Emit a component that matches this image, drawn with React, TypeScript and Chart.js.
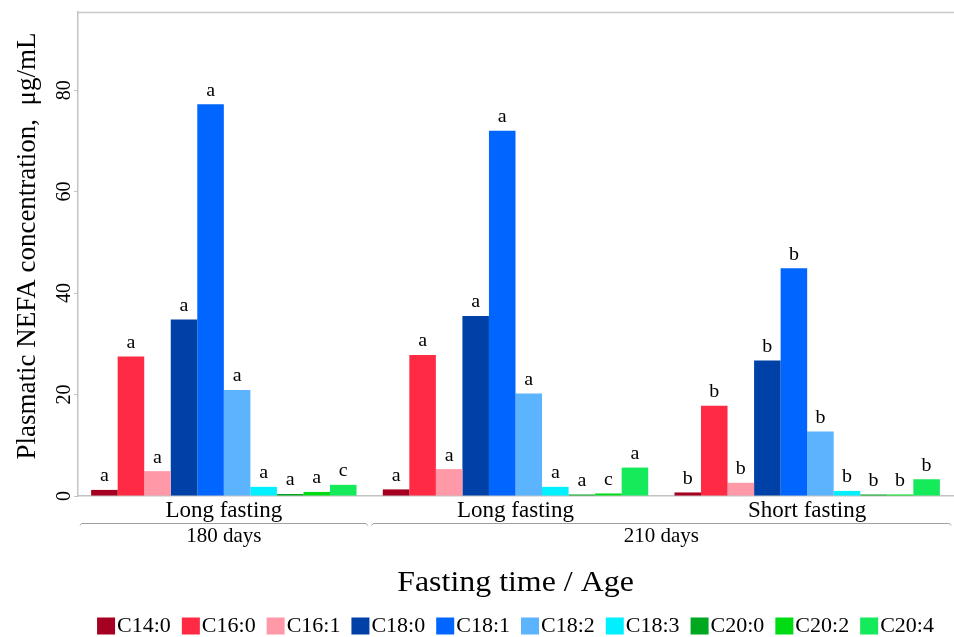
import React, { useEffect, useRef } from 'react';
import { Chart, registerables } from 'chart.js';
Chart.register(...registerables);

// ---- data ----
const groups = ['Long fasting', 'Long fasting', 'Short fasting'];
const ages = ['180 days', '210 days'];
const ageSpans = [1, 2];
const yTicks = [0, 20, 40, 60, 80];
const xTitle = 'Fasting time / Age';
const yTitle = 'Plasmatic NEFA concentration,  \u03bcg/mL';

const seriesNames = ['C14:0', 'C16:0', 'C16:1', 'C18:0', 'C18:1', 'C18:2', 'C18:3', 'C20:0', 'C20:2', 'C20:4'];
const seriesColors = ['#a50021', '#ff2a44', '#ff99a8', '#0041a8', '#0066ff', '#5cb4ff', '#00f0ff', '#00a820', '#00dc14', '#14ea5a'];

const c14_0 = [1.2, 1.3, 0.7];
const c16_0 = [27.5, 27.8, 17.8];
const c16_1 = [4.9, 5.3, 2.6];
const c18_0 = [34.8, 35.5, 26.7];
const c18_1 = [77.2, 72.0, 44.9];
const c18_2 = [20.9, 20.2, 12.7];
const c18_3 = [1.8, 1.8, 1.0];
const c20_0 = [0.4, 0.3, 0.3];
const c20_2 = [0.8, 0.5, 0.3];
const c20_4 = [2.2, 5.6, 3.3];

const sig_c14_0 = ['a', 'a', 'b'];
const sig_c16_0 = ['a', 'a', 'b'];
const sig_c16_1 = ['a', 'a', 'b'];
const sig_c18_0 = ['a', 'a', 'b'];
const sig_c18_1 = ['a', 'a', 'b'];
const sig_c18_2 = ['a', 'a', 'b'];
const sig_c18_3 = ['a', 'a', 'b'];
const sig_c20_0 = ['a', 'a', 'b'];
const sig_c20_2 = ['a', 'c', 'b'];
const sig_c20_4 = ['c', 'a', 'b'];

const seriesValues = [c14_0, c16_0, c16_1, c18_0, c18_1, c18_2, c18_3, c20_0, c20_2, c20_4];
const seriesLetters = [sig_c14_0, sig_c16_0, sig_c16_1, sig_c18_0, sig_c18_1, sig_c18_2, sig_c18_3, sig_c20_0, sig_c20_2, sig_c20_4];

const FONT = '"Liberation Serif", "Times New Roman", serif';
const SX = 1.1;

function drawText(ctx: CanvasRenderingContext2D, s: string, x: number, y: number, size: number,
  align: CanvasTextAlign = 'center', sx = SX, rot = 0, baseline: CanvasTextBaseline = 'middle') {
  ctx.save();
  ctx.translate(x, y);
  if (rot) ctx.rotate(rot);
  ctx.scale(sx, 1);
  ctx.font = `${size}px ${FONT}`;
  ctx.textAlign = align;
  ctx.textBaseline = baseline;
  ctx.fillStyle = '#000';
  ctx.fillText(s, 0, 0);
  ctx.restore();
}

const decorPlugin = {
  id: 'decor',
  afterDatasetsDraw(chart: any) {
    const ctx = chart.ctx as CanvasRenderingContext2D;
    chart.data.datasets.forEach((ds: any, di: number) => {
      const meta = chart.getDatasetMeta(di);
      meta.data.forEach((bar: any, i: number) => {
        drawText(ctx, seriesLetters[di][i], bar.x, bar.y - 4, 19, 'center', 1.05, 0, 'bottom');
      });
    });
  },
  afterDraw(chart: any) {
    const ctx = chart.ctx as CanvasRenderingContext2D;
    const area = chart.chartArea;
    const xs = chart.scales.x;
    const ys = chart.scales.y;

    // top frame line
    ctx.save();
    ctx.strokeStyle = '#c8c8c8';
    ctx.lineWidth = 1.5;
    ctx.beginPath();
    ctx.moveTo(area.left, area.top + 0.5);
    ctx.lineTo(chart.width, area.top + 0.5);
    ctx.stroke();
    ctx.restore();

    // y tick labels (rotated)
    yTicks.forEach((v) => {
      drawText(ctx, String(v), 65, ys.getPixelForValue(v), 20, 'center', 1, -Math.PI / 2);
    });
    // y title
    drawText(ctx, yTitle, 28, (area.top + area.bottom) / 2 - 8, 27, 'center', 1, -Math.PI / 2);

    // x category labels
    const px = (i: number) => xs.getPixelForValue(i);
    const step = px(1) - px(0);
    groups.forEach((g, i) => drawText(ctx, g, px(i), area.bottom + 15, 23, 'center', 1.0));

    // age brackets
    let start = 0;
    ctx.save();
    ctx.strokeStyle = '#a0a0a0';
    ctx.lineWidth = 1;
    ages.forEach((a, k) => {
      const end = start + ageSpans[k] - 1;
      const l = px(start) - step / 2 + 2;
      const r = Math.min(px(end) + step / 2 - 2, chart.width);
      const yb = area.bottom + 27.5;
      ctx.beginPath();
      ctx.moveTo(l, yb + 2);
      ctx.lineTo(l + 1.5, yb);
      ctx.lineTo(r - 1.5, yb);
      ctx.lineTo(r, yb + 2);
      ctx.stroke();
      drawText(ctx, a, (px(start) + px(end)) / 2, area.bottom + 40, 21, 'center', 1.0);
      start = end + 1;
    });
    ctx.restore();

    // x title
    drawText(ctx, xTitle, (area.left + area.right) / 2, area.bottom + 87, 29, 'center', 1.1);

    // legend
    const boxW = 18, boxH = 17, gap = 2, pad = 11, lsize = 20;
    ctx.save();
    ctx.font = `${lsize}px ${FONT}`;
    const widths = seriesNames.map((n) => boxW + gap + ctx.measureText(n).width * SX);
    ctx.restore();
    const total = widths.reduce((s, w) => s + w, 0) + pad * (widths.length - 1);
    let lx = (area.left + area.right) / 2 - total / 2;
    const ly = 626;
    seriesNames.forEach((n, i) => {
      ctx.fillStyle = seriesColors[i];
      ctx.fillRect(lx, ly - boxH / 2, boxW, boxH);
      drawText(ctx, n, lx + boxW + gap, ly + 1, lsize, 'left');
      lx += widths[i] + pad;
    });
  },
};

export default function App() {
  const ref = useRef<HTMLCanvasElement | null>(null);
  useEffect(() => {
    if (!ref.current) return;
    const chart = new Chart(ref.current, {
      type: 'bar',
      data: {
        labels: groups,
        datasets: seriesNames.map((name, i) => ({
          label: name,
          data: seriesValues[i],
          backgroundColor: seriesColors[i],
          borderWidth: 0,
          categoryPercentage: 0.91,
          barPercentage: 1.0,
        })),
      },
      options: {
        responsive: false,
        animation: false,
        devicePixelRatio: 1,
        layout: { padding: { top: 12, right: 1, left: 0, bottom: 0 } },
        plugins: { legend: { display: false }, tooltip: { enabled: false } },
        scales: {
          x: {
            grid: { display: false },
            border: { display: true, color: '#c4c4c4', width: 1.5 },
            ticks: { display: false },
            afterFit: (s: any) => { s.height = 141; },
          },
          y: {
            min: 0,
            max: 95.4,
            grid: { display: true, drawOnChartArea: false, drawTicks: true, tickLength: 4, color: '#c4c4c4' },
            border: { display: true, color: '#c4c4c4', width: 1.5 },
            ticks: { display: false, stepSize: 20 },
            afterBuildTicks: (s: any) => { s.ticks = s.ticks.filter((t: any) => yTicks.includes(t.value)); },
            afterFit: (s: any) => { s.width = 78; },
          },
        },
      },
      plugins: [decorPlugin],
    });
    return () => chart.destroy();
  }, []);
  return (
    <div style={{ position: 'absolute', left: 0, top: 0, width: 954, height: 637, background: '#fff' }}>
      <canvas ref={ref} width={954} height={637} style={{ display: 'block' }} />
    </div>
  );
}
